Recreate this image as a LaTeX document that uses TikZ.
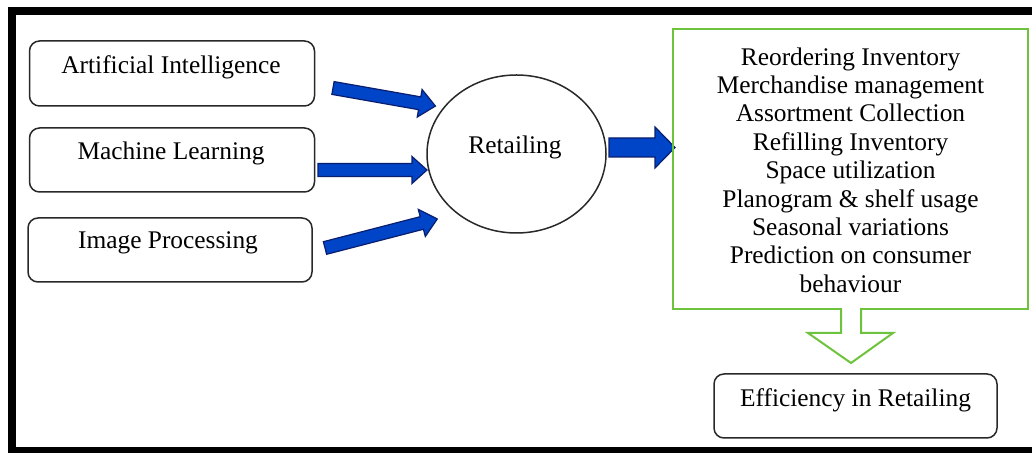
\documentclass[tikz,border=0pt]{standalone}
\usepackage{fontspec}
\setmainfont{Liberation Serif}
\usetikzlibrary{shapes.geometric}
\definecolor{fatblue}{RGB}{0,68,200}
\definecolor{fatedge}{RGB}{10,30,110}
\definecolor{lgreen}{RGB}{110,195,60}
\definecolor{boxedge}{RGB}{40,40,40}
\tikzset{
  rbox/.style={draw=boxedge, line width=0.75pt, rounded corners=5pt, inner sep=0pt},
  lbl/.style={anchor=base, inner sep=0pt, font=\fontsize{12.7}{14.2}\selectfont},
  bluearrow/.style={fill=fatblue, draw=fatedge, line width=0.6pt, line join=miter},
  pics/fatarrow/.style n args={4}{code={
    \path[bluearrow] (0,#2) -- ({#1-#4},#2) -- ({#1-#4},#3) -- (#1,0) -- ({#1-#4},-#3) -- ({#1-#4},-#2) -- (0,-#2) -- cycle;
  }}
}
\begin{document}
\begin{tikzpicture}[x=0.5pt,y=-0.5pt]
\useasboundingbox (0,0) rectangle (1032,453);
% outer frame
\draw[line width=4pt] (12,11) rectangle (1045,451);
% left boxes
\node[rbox, minimum width=142.5pt, minimum height=32.5pt] (ai) at (172,73.5) {};
\node[rbox, minimum width=142.5pt, minimum height=32pt] (ml) at (172,160) {};
\node[rbox, minimum width=142pt, minimum height=32pt] (ip) at (170,250) {};
\node[lbl] (ait) at (171,74) {Artificial Intelligence};
\node[lbl] (mlt) at (171,160) {Machine Learning};
\node[lbl] (ipt) at (168,249) {Image Processing};
% ellipse
\node[ellipse, draw=boxedge, line width=0.75pt, minimum width=89.5pt, minimum height=79pt, inner sep=0pt] (ret) at (516.5,154) {};
\node[lbl] (rett) at (515,154) {Retailing};
% blue arrows
\pic[rotate=-10] at (333,88) {fatarrow={104}{6.5}{14}{16}};
\pic at (318,170) {fatarrow={109}{6.5}{13.5}{15}};
\pic[rotate=14.5] at (325,248) {fatarrow={116}{6.5}{14}{16}};
\pic at (609,147.5) {fatarrow={66}{9.5}{20.5}{20}};
% green box
\node[draw=lgreen, line width=1pt, minimum width=177.5pt, minimum height=140pt, inner sep=0pt] (gb) at (850.5,169) {};
\node[align=center, inner sep=0pt, font=\fontsize{12.7}{14.2}\selectfont] (gbt) at (850.5,170) {Reordering Inventory\\Merchandise management\\Assortment Collection\\Refilling Inventory\\Space utilization\\Planogram \& shelf usage\\Seasonal variations\\Prediction on consumer\\behaviour};
% hollow green arrow
\fill[white] (842,306) rectangle (860,312);
\coordinate (gl) at (841,309);
\coordinate (gr) at (861,309);
\draw[lgreen, line width=1pt, line join=miter] (gl) -- (841,333) -- (808,333) -- (851,363) -- (893,333) -- (861,333) -- (gr);
% efficiency
\node[rbox, minimum width=141.5pt, minimum height=32pt] (eff) at (855.5,406) {};
\node[lbl] (efft) at (855.5,407) {Efficiency in Retailing};
\end{tikzpicture}
\end{document}
